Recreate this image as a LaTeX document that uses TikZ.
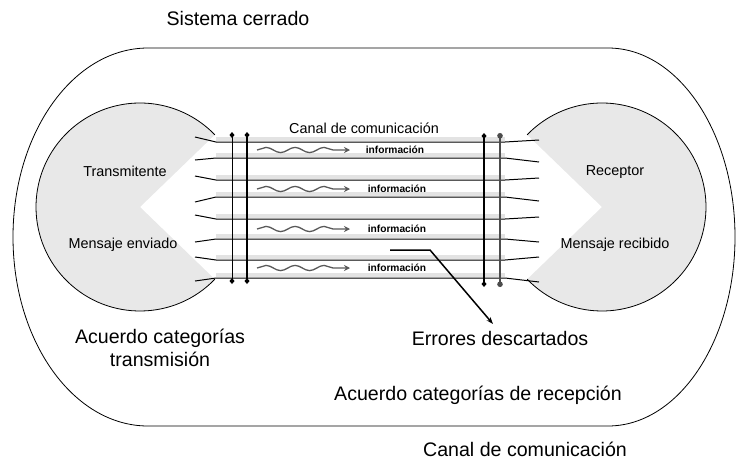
\documentclass[tikz,border=0pt]{standalone}
\usepackage{fontspec}
\setmainfont{Liberation Sans}
\usetikzlibrary{arrows.meta,decorations.pathmorphing}
\begin{document}
\begin{tikzpicture}[x=1pt,y=-1pt,
  big/.style={inner sep=0pt,font=\fontsize{19.6}{23}\selectfont},
  mid/.style={inner sep=0pt,font=\fontsize{14.4}{17}\selectfont},
  info/.style={inner sep=0pt,font=\fontsize{10.2}{12}\selectfont\bfseries},
  chan/.style={line width=1pt},
  band/.style={line width=4.5pt,gray!22},
  wave/.style={draw=gray!70!black,line width=1.3pt,decorate,
    decoration={snake,amplitude=2.6pt,segment length=29pt,post length=7pt},
    -{Stealth[length=6pt,width=6pt]}},
  lbar/.style={line width=1.2pt,{Diamond[length=6pt,width=5pt]}-{Diamond[length=6pt,width=5pt]}},
  pac/.style={fill=gray!18},
]
\useasboundingbox (0,0) rectangle (736,461);

% outer closed system
\draw[line width=0.8pt] (148,48) -- (608,48)
  arc[start angle=-90,end angle=90,x radius=127,y radius=189]
  -- (148,426)
  arc[start angle=90,end angle=270,x radius=135,y radius=189] -- cycle;

% pacmen
\coordinate (cl) at (140,207);
\coordinate (cr) at (602,207);
\fill[pac] (cl) -- ++(44:104) arc[start angle=44,end angle=316,radius=104] -- cycle;
\draw[line width=0.8pt] (cl) ++(44:104) arc[start angle=44,end angle=316,radius=104];
\fill[pac] (cr) -- ++(136:104) arc[start angle=136,end angle=-136,radius=104] -- cycle;
\draw[line width=0.8pt] (cr) ++(136:104) arc[start angle=136,end angle=-136,radius=104];

% channel lines
\foreach \a/\b/\c [count=\i] in {137/142/140,160/158/162,176/180/178,202/197/201,215/219/217,242/239/242,257/260/257,281/278/282}{
  \draw[band] (216,\b-3) -- (505,\b-3);
  \coordinate (L\i) at (195,\a);
  \coordinate (M\i) at (216,\b);
  \coordinate (N\i) at (505,\b);
  \coordinate (R\i) at (539,\c);
  \draw[chan] (L\i) -- (M\i) -- (N\i) -- (R\i);
}

% wavy arrows and labels
\foreach \y/\x [count=\i] in {150/395,189/397,229/397,268/397}{
  \coordinate (ws\i) at (257,\y);
  \coordinate (we\i) at (350,\y);
  \draw[wave] (ws\i) -- (we\i);
  \node[info] (inf\i) at (\x,\y) {información};
}

% vertical bars
\coordinate (b1t) at (232,132); \coordinate (b1b) at (232,284);
\coordinate (b2t) at (247,132); \coordinate (b2b) at (247,284);
\coordinate (b3t) at (484,133); \coordinate (b3b) at (484,287);
\coordinate (b4t) at (500,133); \coordinate (b4b) at (500,287);
\draw[lbar,line width=1pt] (b1t) -- (b1b);
\draw[lbar,line width=1.6pt] (b2t) -- (b2b);
\draw[lbar,line width=1.8pt] (b3t) -- (b3b);
\draw[gray!60!black,line width=1.3pt,{Circle[length=5.5pt]}-{Circle[length=5.5pt]}] (b4t) -- (b4b);

% texts
\node[big] (title) at (238,18) {Sistema cerrado};
\node[mid] (canal) at (364,128) {Canal de comunicación};
\node[mid] (tx) at (125,171) {Transmitente};
\node[mid] (menv) at (123,245) {Mensaje enviado};
\node[mid] (rx) at (615,172) {Receptor};
\node[mid] (mrec) at (615,245) {Mensaje recibido};
\node[big,align=center] (acT) at (160,348) {Acuerdo categorías\\transmisión};
\node[big] (err) at (500,338) {Errores descartados};
\node[big] (acR) at (478,395) {Acuerdo categorías de recepción};
\node[big] (canal2) at (525,449) {Canal de comunicación};

% errors pointer
\coordinate (e1) at (390,250);
\coordinate (e2) at (430,250);
\coordinate (e3) at (493,324);
\draw[line width=1.5pt,-{Stealth[length=7pt,width=5pt]}] (e1) -- (e2) -- (e3);
\end{tikzpicture}
\end{document}
